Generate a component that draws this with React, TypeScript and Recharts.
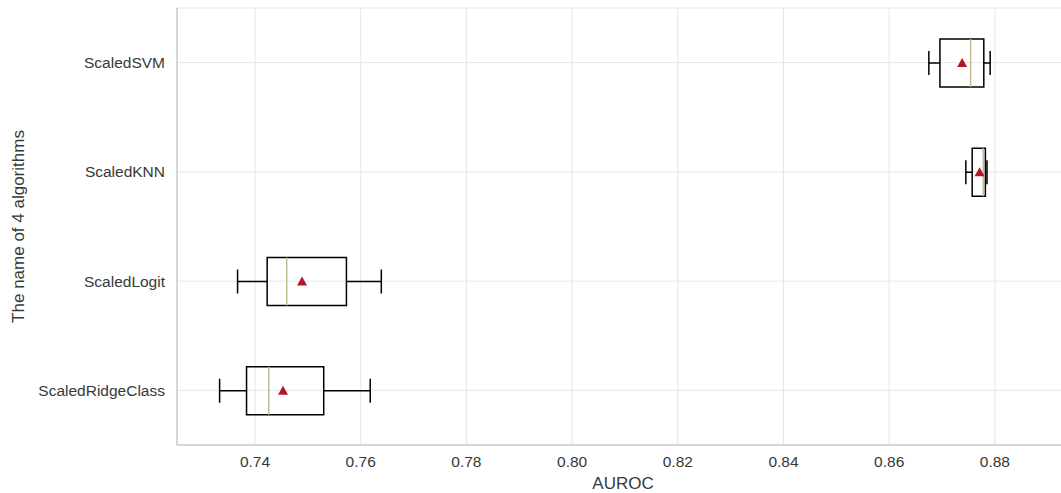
import React from 'react';
import { ComposedChart, Bar, XAxis, YAxis, CartesianGrid } from 'recharts';

const categories = ['ScaledSVM', 'ScaledKNN', 'ScaledLogit', 'ScaledRidgeClass'];
const whiskerLow = [0.8675, 0.8745, 0.7367, 0.7333];
const quartile1 = [0.8696, 0.8757, 0.7423, 0.7384];
const medians = [0.8754, 0.8778, 0.746, 0.7426];
const quartile3 = [0.8779, 0.8782, 0.7573, 0.753];
const whiskerHigh = [0.8791, 0.8785, 0.7639, 0.7618];
const means = [0.8738, 0.8771, 0.7489, 0.7453];
const xTicks = [0.74, 0.76, 0.78, 0.8, 0.82, 0.84, 0.86, 0.88];

type Row = {
  name: string;
  range: [number, number];
  q1: number;
  median: number;
  q3: number;
  mean: number;
};

const data: Row[] = categories.map((name, i) => ({
  name,
  range: [whiskerLow[i], whiskerHigh[i]],
  q1: quartile1[i],
  median: medians[i],
  q3: quartile3[i],
  mean: means[i],
}));

const textColor = '#383838';
const gridColor = '#e6e6e6';
const frameColor = '#cccccc';
const font = '"Liberation Sans", Arial, sans-serif';

// draws whiskers, box, median and mean marker from the bar's pixel span
const BoxShape = (props: any) => {
  const { x, y, width, height, payload } = props;
  if (!payload) return null;
  const [lo, hi] = payload.range;
  const left = Math.min(x, x + width);
  const span = Math.abs(width);
  const px = (v: number) => left + ((v - lo) / (hi - lo)) * span;
  const cy = y + height / 2;
  const cap = height / 4;
  const xq1 = px(payload.q1);
  const xq3 = px(payload.q3);
  const xm = px(payload.median);
  const xmean = px(payload.mean);
  const tri = 5;
  return (
    <g>
      <line x1={left} y1={cy} x2={xq1} y2={cy} stroke="#000" strokeWidth={1.5} />
      <line x1={xq3} y1={cy} x2={left + span} y2={cy} stroke="#000" strokeWidth={1.5} />
      <line x1={left} y1={cy - cap} x2={left} y2={cy + cap} stroke="#000" strokeWidth={1.5} />
      <line x1={left + span} y1={cy - cap} x2={left + span} y2={cy + cap} stroke="#000" strokeWidth={1.5} />
      <rect x={xq1} y={y} width={xq3 - xq1} height={height} fill="none" stroke="#000" strokeWidth={1.5} />
      <line x1={xm} y1={y} x2={xm} y2={y + height} stroke="#c2bb8e" strokeWidth={1.5} />
      <polygon
        points={`${xmean - tri},${cy + tri * 0.8} ${xmean + tri},${cy + tri * 0.8} ${xmean},${cy - tri}`}
        fill="#b0182a"
      />
    </g>
  );
};

const App = () => {
  return (
    <div style={{ position: 'absolute', left: 0, top: 0, width: 1061, height: 493, overflow: 'hidden', background: '#fff' }}>
      <ComposedChart
        width={1070}
        height={493}
        data={data}
        layout="vertical"
        margin={{ top: 8, right: 1, bottom: 0, left: 0 }}
        style={{ fontFamily: font }}
      >
        <CartesianGrid stroke={gridColor} strokeWidth={1} />
        <XAxis
          type="number"
          domain={[0.72524, 0.89402]}
          allowDataOverflow
          ticks={xTicks}
          tickFormatter={(v: number) => v.toFixed(2)}
          tickLine={false}
          tickSize={0}
          tickMargin={11}
          height={48}
          axisLine={{ stroke: frameColor, strokeWidth: 1.5 }}
          tick={{ fill: textColor, fontSize: 15.5 }}
          label={{
            content: (p: any) => {
              const vb = p.viewBox;
              return (
                <text x={vb.x + vb.width / 2} y={vb.y + 38} textAnchor="middle" dominantBaseline="central" fill={textColor} fontSize={17}>
                  AUROC
                </text>
              );
            },
          }}
        />
        <XAxis
          xAxisId="top"
          orientation="top"
          type="number"
          domain={[0.72524, 0.89402]}
          allowDataOverflow
          tick={false}
          tickLine={false}
          height={0}
          axisLine={{ stroke: frameColor, strokeWidth: 1.5 }}
        />
        <YAxis
          type="category"
          dataKey="name"
          width={177}
          tickLine={false}
          tickSize={0}
          tickMargin={12}
          axisLine={{ stroke: frameColor, strokeWidth: 1.5 }}
          tick={{ fill: textColor, fontSize: 15.5 }}
          label={{
            content: (p: any) => {
              const vb = p.viewBox;
              const cx = vb.x + 18;
              const cy = vb.y + vb.height / 2;
              return (
                <text
                  x={cx}
                  y={cy}
                  transform={`rotate(-90, ${cx}, ${cy})`}
                  textAnchor="middle"
                  dominantBaseline="central"
                  fill={textColor}
                  fontSize={17}
                >
                  The name of 4 algorithms
                </text>
              );
            },
          }}
        />
        <Bar dataKey="range" barSize={48} shape={BoxShape} isAnimationActive={false} />
      </ComposedChart>
    </div>
  );
};

export default App;
